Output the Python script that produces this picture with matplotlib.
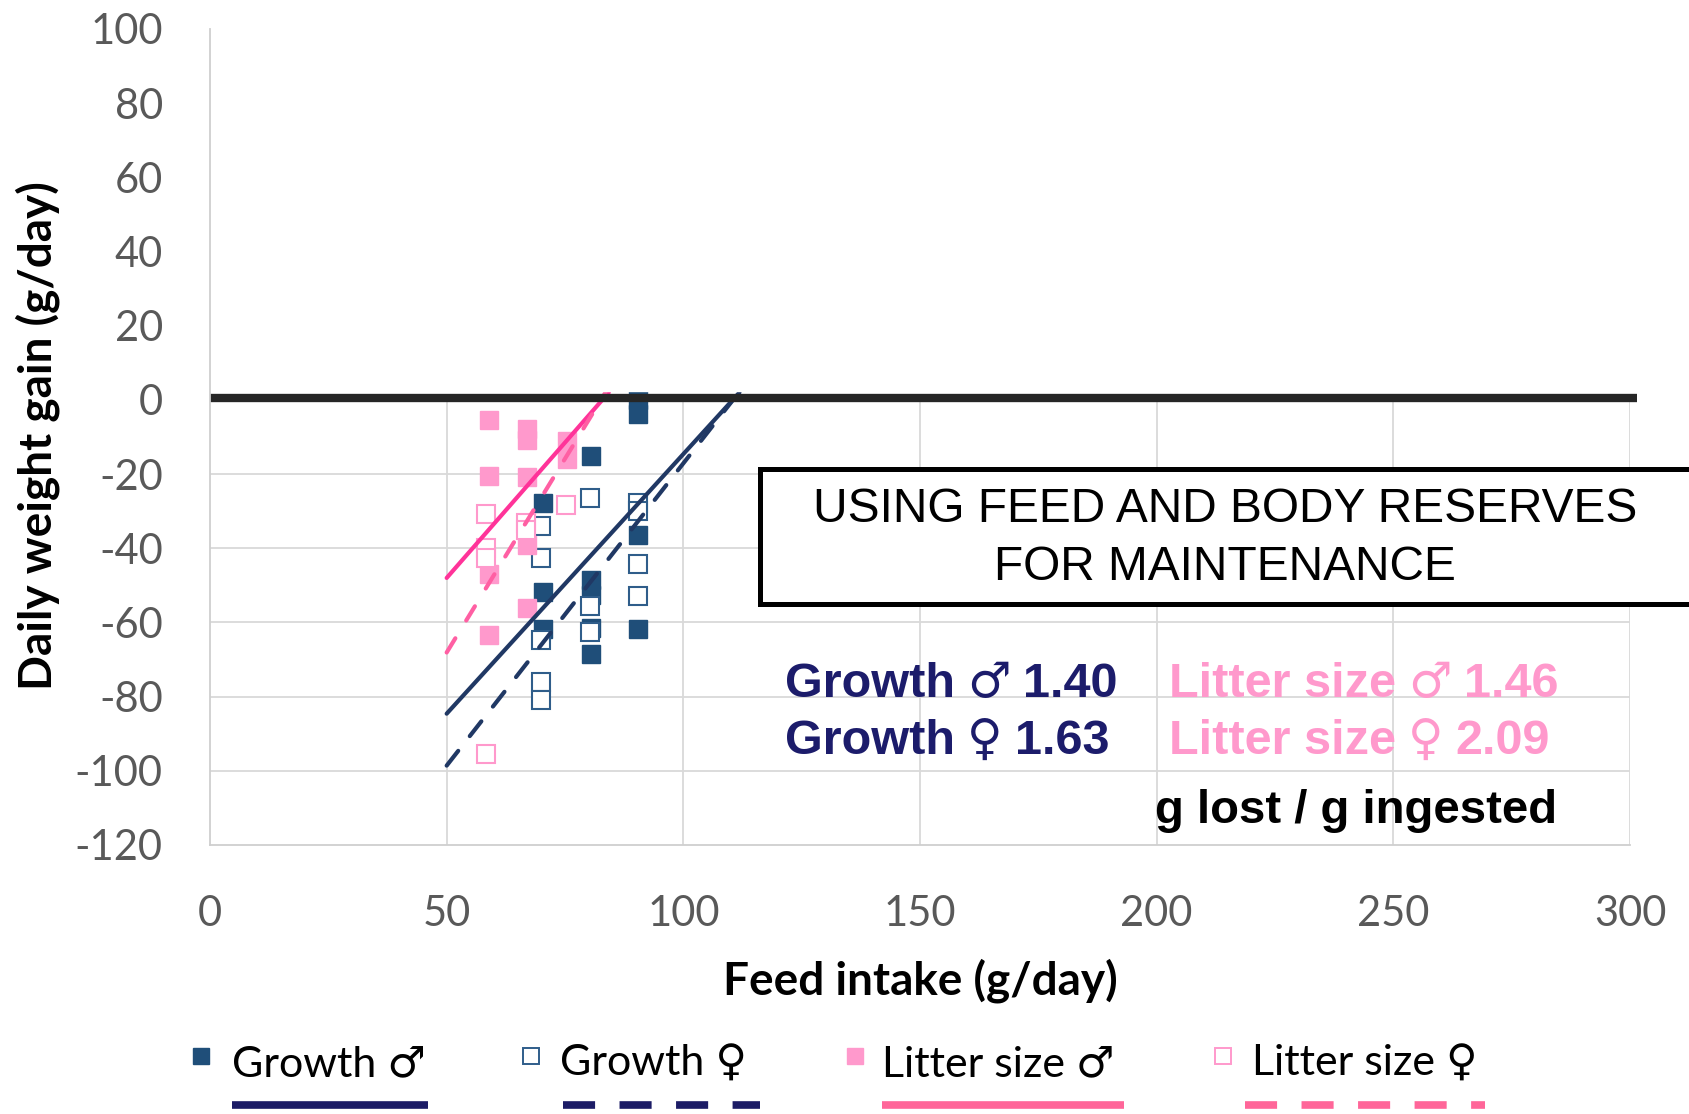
import matplotlib
matplotlib.use("Agg")
import matplotlib.pyplot as plt
from matplotlib.lines import Line2D
from matplotlib.patches import Rectangle

plt.rcParams["axes.unicode_minus"] = False

# feed intake (g/day) vs daily weight gain (g/day), one list per group
growth_m_x = [90.5, 90.5, 80.4, 70.4, 90.5, 80.4, 80.4, 70.4, 70.4, 80.4, 90.5, 80.4]
growth_m_y = [0.0, -3.8, -15.0, -27.7, -36.5, -48.6, -52.6, -51.9, -61.8, -61.5, -61.8, -68.5]
growth_f_x = [80.2, 90.4, 90.4, 70.0, 70.0, 90.4, 90.4, 80.2, 80.2, 70.0, 70.0, 70.0]
growth_f_y = [-26.4, -27.7, -30.0, -34.0, -42.7, -44.3, -52.9, -55.6, -62.7, -64.7, -76.0, -80.8]
litter_m_x = [58.9, 67.0, 67.0, 75.5, 75.5, 58.9, 67.0, 67.0, 58.9, 67.0, 58.9]
litter_m_y = [-5.3, -7.8, -10.9, -11.0, -16.0, -20.5, -20.7, -39.1, -47.0, -56.1, -63.4]
litter_f_x = [58.4, 58.4, 58.4, 75.3, 66.7, 66.7, 58.4]
litter_f_y = [-30.8, -40.0, -42.5, -28.2, -33.3, -35.0, -95.4]

# trend lines: value at 50 g/day and slope (g lost / g ingested)
groups = ["Growth ♂", "Growth ♀", "Litter size ♂", "Litter size ♀"]
group_names = ["Growth", "Growth", "Litter size", "Litter size"]
group_sex = ["♂", "♀", "♂", "♀"]
fit_at_50 = [-84.6, -98.6, -48.0, -68.1]
slopes = [1.40, 1.63, 1.46, 2.09]
fit_start = 50
fit_top = 2.0

x_ticks = [0, 50, 100, 150, 200, 250, 300]
y_ticks = [100, 80, 60, 40, 20, 0, -20, -40, -60, -80, -100, -120]

NAVY_FILL = "#1F4E79"
NAVY_EDGE = "#2F5D8A"
NAVY_LINE = "#203864"
NAVY_TEXT = "#1C1C6B"
PINK_FILL = "#FF99CC"
PINK_LINE = "#FF3399"
PINK_DASH = "#FF5FA3"
PINK_LEG = "#FF6699"
GRID = "#D9D9D9"

W, H = 1690, 1114
fig = plt.figure(figsize=(W / 100, H / 100), dpi=100)
ax = fig.add_axes([210 / W, 1 - 845 / H, 1420 / W, 816 / H])
ax.set_xlim(0, 300)
ax.set_ylim(-120, 100)

# grid only below the zero line
ax.vlines(x_ticks[1:], -120, 0, color=GRID, lw=1.3, zorder=1)
ax.hlines([t for t in y_ticks if -120 < t < 0], 0, 300, color=GRID, lw=1.3, zorder=1)

for s in ["top", "right"]:
    ax.spines[s].set_visible(False)
for s in ["left", "bottom"]:
    ax.spines[s].set_color("#CFCFCF")
    ax.spines[s].set_linewidth(1.3)
    ax.spines[s].set_zorder(5)

ax.set_xticks(x_ticks)
ax.set_yticks(y_ticks)
ax.tick_params(length=0, labelsize=30, labelcolor="#595959")
ax.tick_params(axis="y", pad=34)
ax.tick_params(axis="x", pad=36)
for lab in ax.get_xticklabels() + ax.get_yticklabels():
    lab.set_family("Lato")

ms = 13
ax.plot(growth_m_x, growth_m_y, "s", ms=ms, mfc=NAVY_FILL, mec=NAVY_FILL, zorder=2)
ax.plot(growth_f_x, growth_f_y, "s", ms=ms, mfc="white", mec=NAVY_EDGE, mew=1.5, zorder=2)
ax.plot(litter_m_x, litter_m_y, "s", ms=ms, mfc=PINK_FILL, mec=PINK_FILL, zorder=2)
ax.plot(litter_f_x, litter_f_y, "s", ms=ms, mfc="white", mec=PINK_FILL, mew=1.5, zorder=2)

line_styles = [
    dict(color=NAVY_LINE, ls="-"),
    dict(color=NAVY_LINE, ls=(0, (4.5, 4.5))),
    dict(color=PINK_LINE, ls="-"),
    dict(color=PINK_DASH, ls=(0, (4, 5))),
]
for y50, k, st in zip(fit_at_50, slopes, line_styles):
    x_end = fit_start + (fit_top - y50) / k
    ax.plot([fit_start, x_end], [y50, y50 + k * (x_end - fit_start)],
            lw=3, solid_capstyle="round", dash_capstyle="round", zorder=2.5, **st)

# blank the area above the zero line, then draw the zero line itself
ax.axhspan(2.5, 100, color="white", zorder=3)
ax.plot([0, 301.5], [0.6, 0.6], color="#262626", lw=6, solid_capstyle="butt",
        clip_on=False, zorder=4)

ax.set_xlabel("Feed intake (g/day)", family="Lato", weight="bold", fontsize=33)
ax.set_ylabel("Daily weight gain (g/day)", family="Lato", weight="bold", fontsize=33)
ax.xaxis.label.set_va("center")
ax.yaxis.label.set_va("center")
ax.xaxis.set_label_coords(0.5, (845 - 981) / 816)
ax.yaxis.set_label_coords((38 - 210) / 1420, (845 - 436) / 816)

# title box
fig.add_artist(Rectangle((760 / W, 1 - 604 / H), 0.6, 135 / H,
                         transform=fig.transFigure, facecolor="white",
                         edgecolor="black", lw=3.6, zorder=6))
fig.text(1225 / W, 1 - 510 / H, "USING FEED AND BODY RESERVES",
         ha="center", va="center", fontsize=34.5, family="Liberation Sans", zorder=7)
fig.text(1225 / W, 1 - 567 / H, "FOR MAINTENANCE",
         ha="center", va="center", fontsize=34.5, family="Liberation Sans", zorder=7)

renderer = fig.canvas.get_renderer()


def text_run(x, y, pieces, gap=12, **kw):
    """Write pieces left to right on one baseline, each in its own font."""
    for s, fam in pieces:
        t = fig.text(x / W, 1 - y / H, s, ha="left", va="baseline", family=fam, **kw)
        x += t.get_window_extent(renderer).width + gap


stat_pos = [(785, 697), (785, 754), (1169, 697), (1169, 754)]
stat_col = [NAVY_TEXT, NAVY_TEXT, PINK_FILL, PINK_FILL]
for name, sex, k, (px, py), c in zip(group_names, group_sex, slopes, stat_pos, stat_col):
    text_run(px, py, [(name, "Liberation Sans"), (sex, "DejaVu Sans"),
                      (f"{k:.2f}", "Liberation Sans")],
             fontsize=35, weight="bold", color=c)
fig.text(1557 / W, 1 - 823 / H, "g lost / g ingested", ha="right",
         va="baseline", fontsize=34, weight="bold", family="Liberation Sans",
         color="black")

# legend: marker + name, line sample underneath
leg_marker = [
    dict(mfc=NAVY_FILL, mec=NAVY_FILL),
    dict(mfc="white", mec=NAVY_EDGE, mew=1.4),
    dict(mfc=PINK_FILL, mec=PINK_FILL),
    dict(mfc="white", mec=PINK_FILL, mew=1.4),
]
leg_line = [
    dict(color="#1C1C66", ls="-"),
    dict(color="#1C1C66", ls=(0, (4.2, 3.2))),
    dict(color=PINK_LEG, ls="-"),
    dict(color=PINK_LEG, ls=(0, (4.2, 3.2))),
]
marker_x = [201, 531, 855, 1223]
text_x = [232, 560, 882, 1252]
line_x = [(232, 428), (563, 760), (882, 1124), (1245, 1485)]
for name, mx, tx, (l0, l1), mk, ln in zip(groups, marker_x, text_x, line_x,
                                           leg_marker, leg_line):
    fig.add_artist(Line2D([mx / W], [1 - 1056 / H], marker="s", ms=11,
                          transform=fig.transFigure, ls="none", **mk))
    fig.text(tx / W, 1 - 1064 / H, name, ha="left", va="center",
             fontsize=31, family=["Lato", "DejaVu Sans"], color="black")
    fig.add_artist(Line2D([l0 / W, l1 / W], [1 - 1105 / H] * 2, lw=5.5,
                          solid_capstyle="butt", dash_capstyle="butt",
                          transform=fig.transFigure, **ln))

fig.savefig("out.png", dpi=100, facecolor="white")
